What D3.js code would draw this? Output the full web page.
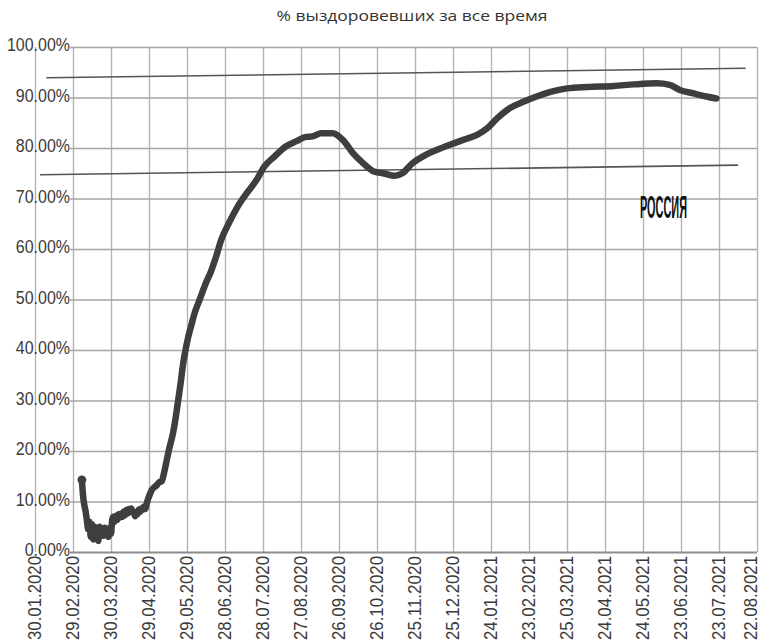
<!DOCTYPE html>
<html><head><meta charset="utf-8">
<script src="https://cdn.jsdelivr.net/npm/d3@7"></script>
<style>
html,body{margin:0;padding:0;background:#fff;}
svg{display:block;}
</style></head>
<body>
<svg id="chart" width="764" height="642"></svg>
<script>
const titleText = "% выздоровевших за все время";
const seriesLabel = "РОССИЯ";

const tickDates = ["30.01.2020","29.02.2020","30.03.2020","29.04.2020","29.05.2020","28.06.2020","28.07.2020","27.08.2020","26.09.2020","26.10.2020","25.11.2020","25.12.2020","24.01.2021","23.02.2021","25.03.2021","24.04.2021","24.05.2021","23.06.2021","23.07.2021","22.08.2021"];
const yTicks = [0,10,20,30,40,50,60,70,80,90,100];

const dates = ["07.03.2020","08.03.2020","09.03.2020","10.03.2020","11.03.2020","12.03.2020","13.03.2020","14.03.2020","15.03.2020","16.03.2020","17.03.2020","18.03.2020","19.03.2020","20.03.2020","21.03.2020","22.03.2020","23.03.2020","24.03.2020","25.03.2020","26.03.2020","27.03.2020","28.03.2020","29.03.2020","30.03.2020","31.03.2020","01.04.2020","02.04.2020","03.04.2020","04.04.2020","05.04.2020","06.04.2020","07.04.2020","08.04.2020","09.04.2020","10.04.2020","11.04.2020","12.04.2020","13.04.2020","14.04.2020","15.04.2020","16.04.2020","17.04.2020","18.04.2020","19.04.2020","20.04.2020","21.04.2020","22.04.2020","23.04.2020","24.04.2020","25.04.2020","26.04.2020","27.04.2020","28.04.2020","29.04.2020","01.05.2020","03.05.2020","05.05.2020","07.05.2020","09.05.2020","11.05.2020","13.05.2020","15.05.2020","18.05.2020","20.05.2020","22.05.2020","24.05.2020","26.05.2020","28.05.2020","30.05.2020","01.06.2020","04.06.2020","08.06.2020","13.06.2020","17.06.2020","21.06.2020","25.06.2020","01.07.2020","08.07.2020","15.07.2020","23.07.2020","29.07.2020","06.08.2020","15.08.2020","23.08.2020","31.08.2020","05.09.2020","12.09.2020","21.09.2020","29.09.2020","07.10.2020","15.10.2020","23.10.2020","31.10.2020","09.11.2020","15.11.2020","23.11.2020","01.12.2020","12.12.2020","22.12.2020","02.01.2021","13.01.2021","21.01.2021","29.01.2021","08.02.2021","19.02.2021","01.03.2021","12.03.2021","25.03.2021","10.04.2021","01.05.2021","17.05.2021","04.06.2021","14.06.2021","22.06.2021","03.07.2021","13.07.2021","21.07.2021"];
const values = [14.3,11.0,9.2,8.0,6.2,4.5,6.0,3.0,5.5,2.5,5.0,3.0,4.6,2.2,5.0,3.5,4.6,3.2,4.8,3.4,4.5,3.0,4.8,3.6,6.5,7.0,6.0,7.2,6.4,7.5,6.8,7.6,7.0,8.0,7.3,8.3,7.6,8.5,8.0,8.6,7.8,8.0,7.1,7.8,7.5,8.4,8.0,8.6,8.4,9.0,8.5,9.4,10.3,11.0,12.2,12.8,13.2,13.8,14.0,15.8,18.2,20.5,23.6,26.5,30.0,33.5,37.4,40.2,42.6,44.5,47.3,50.0,53.3,55.6,58.5,61.8,65.1,68.4,71.0,73.7,76.3,78.3,80.3,81.3,82.2,82.3,82.9,82.9,81.6,79.0,77.0,75.4,75.0,74.5,75.0,77.0,78.3,79.6,80.6,81.6,82.6,83.9,85.9,87.9,89.2,90.2,91.1,91.8,92.1,92.3,92.6,92.8,92.5,91.5,90.8,90.2,89.8];

const upperTrendDates = ["08.02.2020","13.08.2021"];
const upperTrendValues = [93.9,95.8];
const lowerTrendDates = ["03.02.2020","07.08.2021"];
const lowerTrendValues = [74.7,76.6];

const parse = d3.utcParse("%d.%m.%Y");
const svg = d3.select("#chart");

const x = d3.scaleUtc()
  .domain([parse(tickDates[0]), parse(tickDates[tickDates.length-1])])
  .range([35, 757]);
const y = d3.scaleLinear().domain([0,100]).range([552,47]);

// vertical grid (via axis)
const xAxisGrid = d3.axisBottom(x)
  .tickValues(tickDates.map(parse))
  .tickSize(-(y(0)-y(100)))
  .tickFormat("");
const gx = svg.append("g").attr("transform",`translate(0,${y(0)})`).call(xAxisGrid);
gx.select(".domain").remove();
gx.selectAll("line").attr("stroke","#b4b4b4").attr("stroke-width",1.4);

// horizontal grid
const yAxisGrid = d3.axisLeft(y).tickValues(yTicks).tickSize(-(757-70)).tickFormat("");
const gy = svg.append("g").attr("transform","translate(70,0)").call(yAxisGrid);
gy.select(".domain").remove();
gy.selectAll("line").attr("stroke", d => d===0 ? "#8c8c8c" : "#a6a6a6").attr("stroke-width", d => d===0 ? 2 : 1.6);

// y labels
const yl = svg.append("g").selectAll("text").data(yTicks).join("text")
  .attr("x", 70).attr("y", d => y(d)+4)
  .attr("text-anchor","end")
  .attr("font-family","'Liberation Sans', Arial, sans-serif")
  .attr("font-size",19)
  .attr("fill","#3a3a3a")
  .text(d => d3.format(".2f")(d) + "%");
yl.each(function(){ const w=this.getComputedTextLength(); d3.select(this).attr("textLength", w*0.84).attr("lengthAdjust","spacingAndGlyphs"); });

// x labels
svg.append("g").selectAll("text").data(tickDates).join("text")
  .attr("transform", d => `translate(${Math.min(x(parse(d))+6, 757)},556) rotate(-90)`)
  .attr("text-anchor","end")
  .attr("font-family","'Liberation Sans', Arial, sans-serif")
  .attr("font-size",19)
  .attr("fill","#3a3a3a")
  .attr("textLength", 84).attr("lengthAdjust","spacingAndGlyphs")
  .text(d => d);

// trend lines
const tline = d3.line().x(d => x(d[0])).y(d => y(d[1]));
svg.append("path")
  .datum(upperTrendDates.map((d,i)=>[parse(d), upperTrendValues[i]]))
  .attr("d", tline).attr("fill","none").attr("stroke","#555").attr("stroke-width",1.6);
svg.append("path")
  .datum(lowerTrendDates.map((d,i)=>[parse(d), lowerTrendValues[i]]))
  .attr("d", tline).attr("fill","none").attr("stroke","#555").attr("stroke-width",1.6);

// main series
const series = dates.map((d,i)=>[parse(d), values[i]]);
svg.append("path")
  .datum(series)
  .attr("d", d3.line().x(d=>x(d[0])).y(d=>y(d[1])).curve(d3.curveMonotoneX))
  .attr("fill","none").attr("stroke","#3e3e3e").attr("stroke-width",6.5)
  .attr("stroke-linejoin","round").attr("stroke-linecap","round");
svg.append("circle")
  .attr("cx", x(series[0][0])).attr("cy", y(series[0][1])).attr("r",4.4).attr("fill","#3e3e3e");

// title
svg.append("text")
  .attr("x", 412).attr("y", 21)
  .attr("text-anchor","middle")
  .attr("font-family","'Open Sans', 'Noto Sans', sans-serif")
  .attr("font-size",15)
  .attr("fill","#333")
  .attr("textLength",271).attr("lengthAdjust","spacingAndGlyphs")
  .text(titleText);

// series label
svg.append("text")
  .attr("transform","translate(640,218) scale(1,2.45)")
  .attr("font-family","'Liberation Sans', Arial, sans-serif")
  .attr("font-size",13).attr("font-weight","bold")
  .attr("fill","#111")
  .attr("textLength",47).attr("lengthAdjust","spacingAndGlyphs")
  .text(seriesLabel);
</script>
</body></html>
